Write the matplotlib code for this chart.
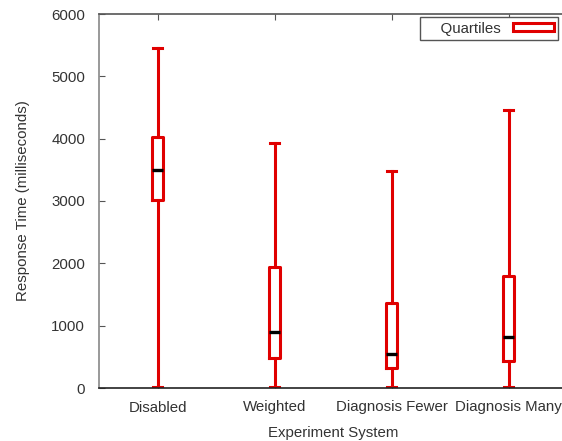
import matplotlib
matplotlib.use("Agg")
import matplotlib.pyplot as plt
from matplotlib.patches import Rectangle

systems = ["Disabled", "Weighted", "Diagnosis Fewer", "Diagnosis Many"]
whisker_low = [10, 10, 10, 10]
q1 = [3020, 480, 320, 430]
median = [3500, 900, 550, 820]
q3 = [4020, 1940, 1370, 1800]
whisker_high = [5450, 3930, 3480, 4460]

plt.rcParams["font.family"] = ["Liberation Sans", "DejaVu Sans"]

RED = "#e00000"
TEXT = "#333333"
FS = 10.8

fig = plt.figure(figsize=(5.62, 4.41), dpi=100)
ax = fig.add_axes([99 / 562, 53 / 441, 468 / 562, 374 / 441])

stats = []
for i, name in enumerate(systems):
    stats.append({
        "label": name,
        "whislo": whisker_low[i],
        "q1": q1[i],
        "med": median[i],
        "q3": q3[i],
        "whishi": whisker_high[i],
    })

positions = list(range(1, len(systems) + 1))
ax.bxp(stats, positions=positions, widths=0.1, showfliers=False,
       capwidths=0.07,
       boxprops=dict(color=RED, linewidth=2.2),
       whiskerprops=dict(color=RED, linewidth=2.2),
       capprops=dict(color=RED, linewidth=2.2),
       medianprops=dict(color="black", linewidth=2.4))

ax.set_xlim(0.5, len(systems) + 0.5)
ax.set_ylim(0, 6000)
ax.set_yticks(range(0, 6001, 1000))
ax.set_xticks(positions)
ax.set_xticklabels(systems)

ax.tick_params(axis="both", direction="in", length=4, colors="#555555",
               labelcolor=TEXT, labelsize=FS, pad=10)
ax.tick_params(axis="x", top=True, pad=9)

ax.spines["left"].set_color("#888888")
ax.spines["bottom"].set_color("#222222")
ax.spines["top"].set_color("#555555")
ax.spines["right"].set_visible(False)
for s in ax.spines.values():
    s.set_linewidth(1.2)

ax.set_xlabel("Experiment System", color=TEXT, fontsize=FS, labelpad=8)
ax.set_ylabel("Response Time (milliseconds)", color=TEXT, fontsize=FS, labelpad=15)

# legend: text on the left, red box sample on the right (gnuplot style)
handle = Rectangle((0, 0), 1, 1, facecolor="white", edgecolor=RED, linewidth=2.2)
leg = ax.legend([handle], ["    Quartiles"], loc="upper right",
                bbox_to_anchor=(558 / 562, 1 - 17 / 441),
                bbox_transform=fig.transFigure,
                markerfirst=False, handlelength=2.7, handleheight=0.5,
                fancybox=False, framealpha=1, edgecolor="#555555",
                fontsize=FS, borderpad=0.3, handletextpad=0.8,
                borderaxespad=0)
leg.get_frame().set_linewidth(1.0)
for t in leg.get_texts():
    t.set_color(TEXT)

fig.savefig("out.png", dpi=100)
